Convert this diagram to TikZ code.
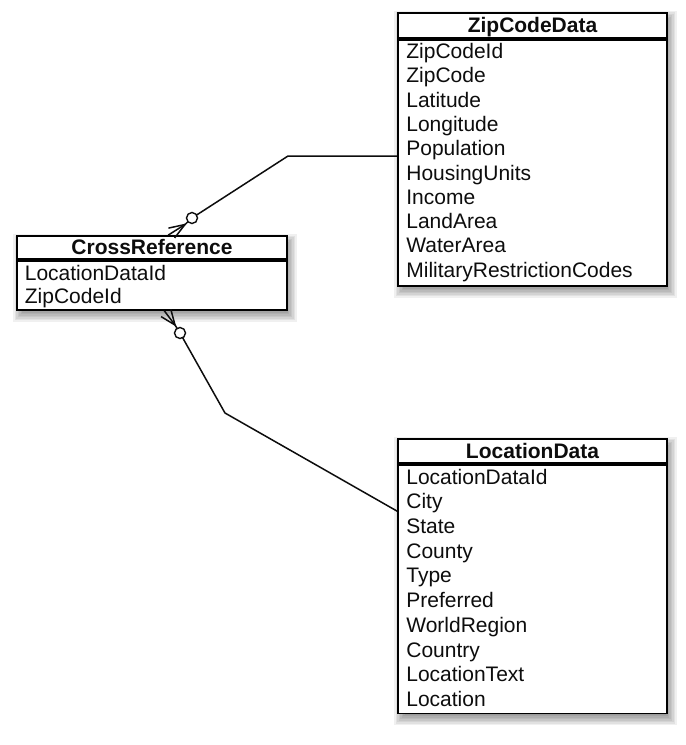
\documentclass[tikz,border=0pt]{standalone}
\usepackage{fontspec}
\setmainfont{Liberation Sans}
\usetikzlibrary{calc,backgrounds}
\definecolor{ink}{HTML}{0D0D0D}
\newcommand\erdshadow[2]{%
  \foreach \e in {6,4.5,...,-6} {
    \fill[black, opacity=0.06]
      ([xshift={3pt-(\e)*1pt}, yshift={-5pt+(\e)*1pt}]#1.north west) rectangle
      ([xshift={3pt+(\e)*1pt}, yshift={-5pt-(\e)*1pt}]#2.south east);
  }}
\begin{document}
\begin{tikzpicture}[x=1pt,y=-1pt,
  hdbox/.style={draw=black, line width=1.7pt, fill=white, minimum width=269pt,
    minimum height=#1, inner sep=0pt, text height=15pt, text depth=1.5pt,
    text=ink, font=\fontsize{21}{24}\selectfont\bfseries},
  hdbox/.default=24pt,
  bdbox/.style={draw=black, line width=1.7pt, fill=white, minimum width=269pt,
    minimum height=#1, inner sep=0pt, anchor=north},
  rowtxt/.style={anchor=base west, inner sep=0pt, text=ink,
    font=\fontsize{21}{24}\selectfont},
  conn/.style={draw=ink, line width=1.5pt, line join=round},
  ring/.style={draw=ink, line width=1.4pt, fill=white}]
\useasboundingbox (0,0) rectangle (686,745);

% ZipCodeData
\node[hdbox=25.6pt] (ziph) at (532.5,25.5) {ZipCodeData};
\node[bdbox=245.7pt] (zipb) at (ziph.south) {};
\foreach \t [count=\i] in {ZipCodeId,ZipCode,Latitude,Longitude,Population,HousingUnits,Income,LandArea,WaterArea,MilitaryRestrictionCodes}
  \node[rowtxt] (zip-\i) at ([xshift=9pt, yshift={-19.4pt-(\i-1)*24.3pt}]zipb.north west) {\t};

% CrossReference
\node[hdbox=23pt, minimum width=270pt] (crh) at (152,247.5) {CrossReference};
\node[bdbox=49pt, minimum width=270pt] (crb) at (crh.south) {};
\foreach \t [count=\i] in {LocationDataId,ZipCodeId}
  \node[rowtxt] (cr-\i) at ([xshift=8.5pt, yshift={-21pt-(\i-1)*23pt}]crb.north west) {\t};

% LocationData
\node[hdbox=24pt] (loch) at (532.5,451.3) {LocationData};
\node[bdbox=248.4pt] (locb) at (loch.south) {};
\foreach \t [count=\i] in {LocationDataId,City,State,County,Type,Preferred,WorldRegion,Country,LocationText,Location}
  \node[rowtxt] (loc-\i) at ([xshift=9pt, yshift={-20pt-(\i-1)*24.7pt}]locb.north west) {\t};

\begin{scope}[on background layer]
  \fill[white] (0,0) rectangle (686,745);
  \erdshadow{ziph}{zipb}
  \erdshadow{crh}{crb}
  \erdshadow{loch}{locb}
\end{scope}

% connector ZipCodeData -> CrossReference
\coordinate (b1) at (288,156);
\coordinate (c1) at (192,218);
\coordinate (ap1) at (185,224.5);
\coordinate (e1) at ([xshift=152pt]crh.north west);
\draw[conn] (zipb.west |- b1) -- (b1) -- (c1) -- (ap1);
\draw[conn] (ap1) -- (e1);
\draw[conn] (ap1) -- ($(ap1)!0.85!20:(e1)$);
\draw[conn] (ap1) -- ($(ap1)!0.85!-20:(e1)$);
\draw[ring] (c1) circle (5.5pt);

% connector LocationData -> CrossReference
\coordinate (b2) at (225,413);
\coordinate (c2) at (180,333);
\coordinate (ap2) at (175,325);
\coordinate (e2) at ([xshift=148pt]crb.south west);
\draw[conn] ([yshift=-47pt]locb.north west) -- (b2) -- (c2) -- (ap2);
\draw[conn] (ap2) -- (e2);
\draw[conn] (ap2) -- ($(ap2)!0.9!22:(e2)$);
\draw[conn] (ap2) -- ($(ap2)!0.9!-22:(e2)$);
\draw[ring] (c2) circle (5.5pt);
\end{tikzpicture}
\end{document}
